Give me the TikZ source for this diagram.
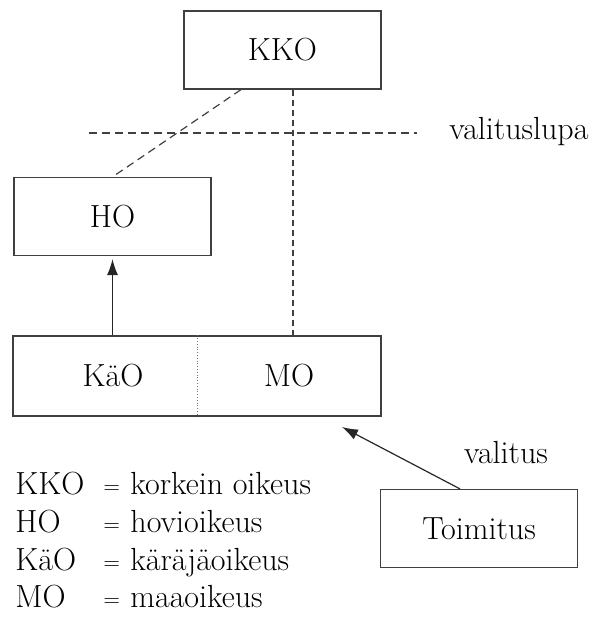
\documentclass[tikz,border=0pt]{standalone}
\usepackage{tikz}
\usetikzlibrary{arrows.meta,positioning,calc}
\tikzset{laatikko/.style={draw=black!75,line width=0.6pt,minimum width=98.5pt,minimum height=39pt,inner sep=0pt},
  lupa/.style={draw=black!75,line width=0.6pt,dash pattern=on 4pt off 2.5pt},
  jako/.style={draw=black!55,line width=0.4pt,densely dotted},
  nuoli/.style={draw=black!85,line width=0.6pt,-{Latex[length=8pt,width=5.5pt]}},
  selite/.style={anchor=base west,inner sep=0pt},
  yhtasuuri/.style={selite,font=\fontsize{11}{13}\selectfont}}

\begin{document}
\begin{tikzpicture}[x=0.5pt,y=-0.5pt,font=\fontsize{16}{19}\selectfont] %pixel grid, y downwards
\useasboundingbox (0,0) rectangle (592,617);

\node (kko) [laatikko] at (282.5,50) {KKO};
\node (ho) [laatikko] at (112.5,216.5) {HO};
\node (ala) [laatikko,minimum width=184pt,minimum height=40pt] at (197,376) {};
\node (kao) at (113,376) {KäO};
\node (mo) at (289,376) {MO};
\node (toim) [laatikko] at (479,528.5) {Toimitus};

\coordinate (raja1) at (89,133);
\coordinate (raja2) at (417,133);
\node (lupateksti) [anchor=west,inner sep=0pt] at (449,132) {valituslupa};
\node (valitus) at (506,453) {valitus};
\coordinate (kohde) at (342,427);
\coordinate (kkoala) at ([xshift=5.25pt]kko.south);

\draw[lupa] (raja1)--(raja2);
\draw[lupa] ([xshift=-20.75pt]kko.south)--(ho.north);
\draw[lupa,dash pattern=on 3pt off 2pt] (kkoala)--(kkoala |- ala.north);
\draw[jako] (ala.north)--(ala.south);
\draw[nuoli,shorten >=1.5pt] (ho.south |- ala.north)--(ho.south);
\draw[nuoli] ([xshift=-9.5pt]toim.north)--(kohde);

% selitteet
\node (lyh1) [selite] at (15,494) {KKO};
\node (lyh2) [selite] at (15,532) {HO};
\node (lyh3) [selite] at (15,570) {KäO};
\node (lyh4) [selite] at (15,607) {MO};
\node (yht1) [yhtasuuri] at (103,493) {=};
\node (yht2) [yhtasuuri] at (103,531) {=};
\node (yht3) [yhtasuuri] at (103,569) {=};
\node (yht4) [yhtasuuri] at (103,606) {=};
\node (sel1) [selite] at (130,494) {korkein oikeus};
\node (sel2) [selite] at (130,532) {hovioikeus};
\node (sel3) [selite] at (130,570) {käräjäoikeus};
\node (sel4) [selite] at (130,607) {maaoikeus};
\end{tikzpicture}
\end{document}
